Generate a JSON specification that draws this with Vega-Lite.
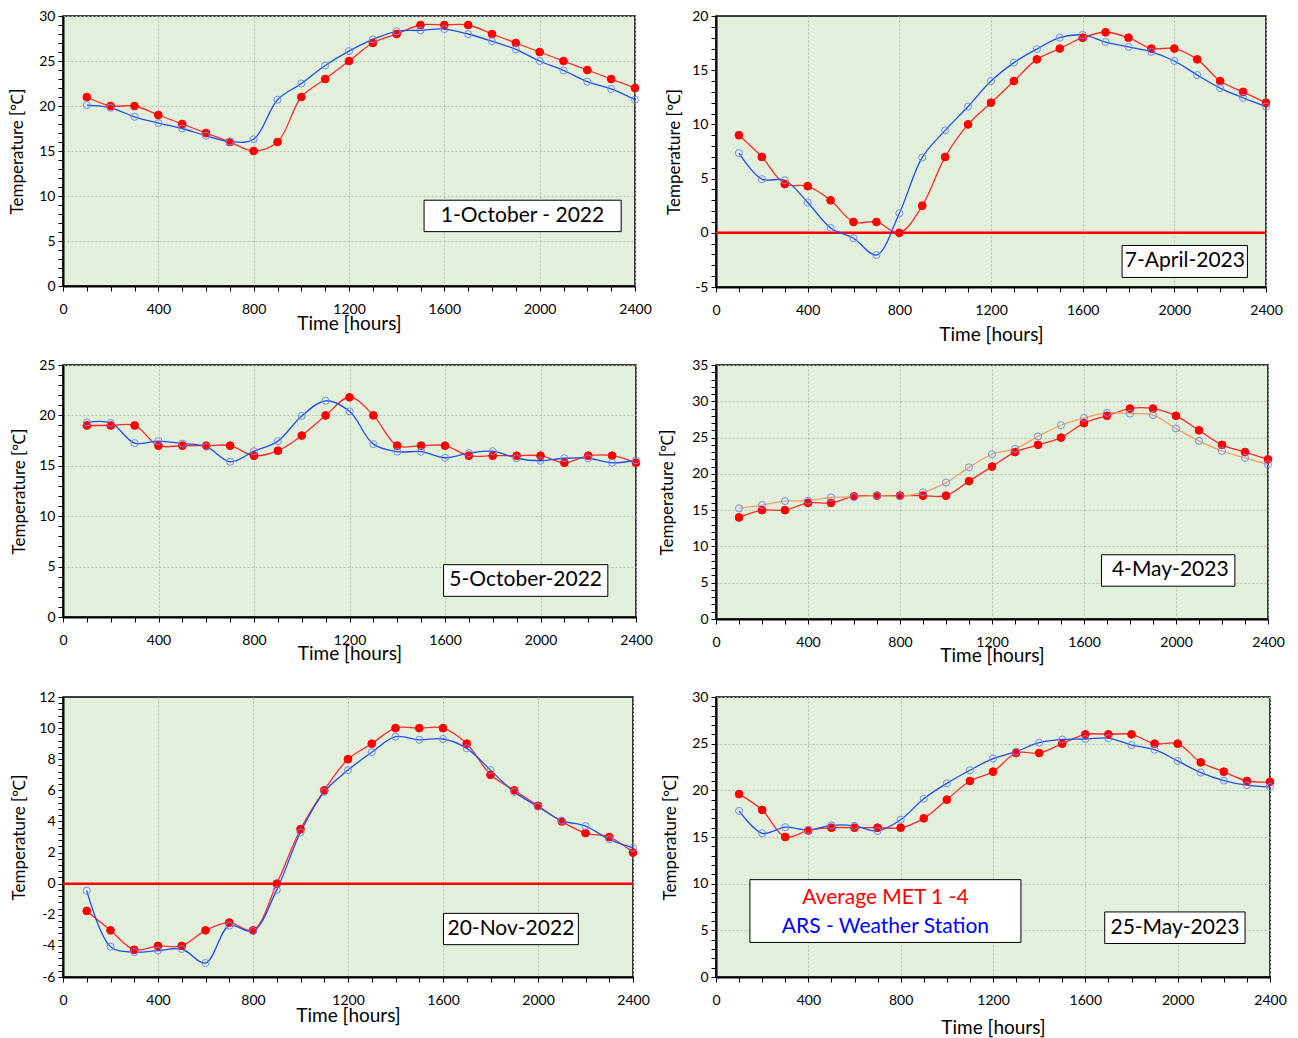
{
  "$schema": "https://vega.github.io/schema/vega-lite/v6.json",
  "background": "#ffffff",
  "padding": {"left": 8, "top": 8, "right": 5, "bottom": 5},
  "bounds": "flush",
  "columns": 2,
  "spacing": {"row": 78, "column": 80},
  "config": {
    "font": "Lato",
    "view": {"stroke": "#000000", "strokeWidth": 1.5, "fill": "#E2EFDA"},
    "axis": {
      "domainColor": "#000000", "domainWidth": 2, "tickColor": "#000000", "tickSize": 5, "tickWidth": 1,
      "labelFont": "Lato", "labelFontSize": 14, "labelColor": "#000000",
      "titleFont": "Lato", "titleFontWeight": "normal", "titleColor": "#000000",
      "gridColor": "#b8b8b8", "gridDash": [2, 2], "gridWidth": 1,
      "labelOverlap": false, "labelBound": false, "labelFlush": false
    },
    "axisX": {"titleFontSize": 19, "labelPadding": 11},
    "axisY": {"titleFontSize": 17, "labelPadding": 3}
  },
  "datasets": {
    "oct1": [
      {"series": "MET", "time": 100, "temp": 21}, {"series": "MET", "time": 200, "temp": 20}, {"series": "MET", "time": 300, "temp": 20}, {"series": "MET", "time": 400, "temp": 19}, {"series": "MET", "time": 500, "temp": 18}, {"series": "MET", "time": 600, "temp": 17}, {"series": "MET", "time": 700, "temp": 16}, {"series": "MET", "time": 800, "temp": 15}, {"series": "MET", "time": 900, "temp": 16}, {"series": "MET", "time": 1000, "temp": 21}, {"series": "MET", "time": 1100, "temp": 23}, {"series": "MET", "time": 1200, "temp": 25}, {"series": "MET", "time": 1300, "temp": 27}, {"series": "MET", "time": 1400, "temp": 28}, {"series": "MET", "time": 1500, "temp": 29}, {"series": "MET", "time": 1600, "temp": 29}, {"series": "MET", "time": 1700, "temp": 29}, {"series": "MET", "time": 1800, "temp": 28}, {"series": "MET", "time": 1900, "temp": 27}, {"series": "MET", "time": 2000, "temp": 26}, {"series": "MET", "time": 2100, "temp": 25}, {"series": "MET", "time": 2200, "temp": 24}, {"series": "MET", "time": 2300, "temp": 23}, {"series": "MET", "time": 2400, "temp": 22},
      {"series": "ARS", "time": 100, "temp": 20.1}, {"series": "ARS", "time": 200, "temp": 19.8}, {"series": "ARS", "time": 300, "temp": 18.8}, {"series": "ARS", "time": 400, "temp": 18.1}, {"series": "ARS", "time": 500, "temp": 17.5}, {"series": "ARS", "time": 600, "temp": 16.7}, {"series": "ARS", "time": 700, "temp": 16.05}, {"series": "ARS", "time": 800, "temp": 16.3}, {"series": "ARS", "time": 900, "temp": 20.7}, {"series": "ARS", "time": 1000, "temp": 22.5}, {"series": "ARS", "time": 1100, "temp": 24.5}, {"series": "ARS", "time": 1200, "temp": 26.1}, {"series": "ARS", "time": 1300, "temp": 27.4}, {"series": "ARS", "time": 1400, "temp": 28.3}, {"series": "ARS", "time": 1500, "temp": 28.4}, {"series": "ARS", "time": 1600, "temp": 28.55}, {"series": "ARS", "time": 1700, "temp": 28.0}, {"series": "ARS", "time": 1800, "temp": 27.2}, {"series": "ARS", "time": 1900, "temp": 26.3}, {"series": "ARS", "time": 2000, "temp": 25.0}, {"series": "ARS", "time": 2100, "temp": 23.95}, {"series": "ARS", "time": 2200, "temp": 22.7}, {"series": "ARS", "time": 2300, "temp": 21.9}, {"series": "ARS", "time": 2400, "temp": 20.7}
    ],
    "apr7": [
      {"series": "MET", "time": 100, "temp": 9}, {"series": "MET", "time": 200, "temp": 7}, {"series": "MET", "time": 300, "temp": 4.5}, {"series": "MET", "time": 400, "temp": 4.3}, {"series": "MET", "time": 500, "temp": 3}, {"series": "MET", "time": 600, "temp": 1}, {"series": "MET", "time": 700, "temp": 1}, {"series": "MET", "time": 800, "temp": 0}, {"series": "MET", "time": 900, "temp": 2.5}, {"series": "MET", "time": 1000, "temp": 7}, {"series": "MET", "time": 1100, "temp": 10}, {"series": "MET", "time": 1200, "temp": 12}, {"series": "MET", "time": 1300, "temp": 14}, {"series": "MET", "time": 1400, "temp": 16}, {"series": "MET", "time": 1500, "temp": 17}, {"series": "MET", "time": 1600, "temp": 18}, {"series": "MET", "time": 1700, "temp": 18.5}, {"series": "MET", "time": 1800, "temp": 18}, {"series": "MET", "time": 1900, "temp": 17}, {"series": "MET", "time": 2000, "temp": 17}, {"series": "MET", "time": 2100, "temp": 16}, {"series": "MET", "time": 2200, "temp": 14}, {"series": "MET", "time": 2300, "temp": 13}, {"series": "MET", "time": 2400, "temp": 12},
      {"series": "ARS", "time": 100, "temp": 7.35}, {"series": "ARS", "time": 200, "temp": 4.95}, {"series": "ARS", "time": 300, "temp": 4.85}, {"series": "ARS", "time": 400, "temp": 2.8}, {"series": "ARS", "time": 500, "temp": 0.45}, {"series": "ARS", "time": 600, "temp": -0.5}, {"series": "ARS", "time": 700, "temp": -2.05}, {"series": "ARS", "time": 800, "temp": 1.8}, {"series": "ARS", "time": 900, "temp": 6.95}, {"series": "ARS", "time": 1000, "temp": 9.45}, {"series": "ARS", "time": 1100, "temp": 11.65}, {"series": "ARS", "time": 1200, "temp": 14.0}, {"series": "ARS", "time": 1300, "temp": 15.7}, {"series": "ARS", "time": 1400, "temp": 16.95}, {"series": "ARS", "time": 1500, "temp": 18.0}, {"series": "ARS", "time": 1600, "temp": 18.25}, {"series": "ARS", "time": 1700, "temp": 17.6}, {"series": "ARS", "time": 1800, "temp": 17.15}, {"series": "ARS", "time": 1900, "temp": 16.7}, {"series": "ARS", "time": 2000, "temp": 15.85}, {"series": "ARS", "time": 2100, "temp": 14.55}, {"series": "ARS", "time": 2200, "temp": 13.35}, {"series": "ARS", "time": 2300, "temp": 12.45}, {"series": "ARS", "time": 2400, "temp": 11.65}
    ],
    "oct5": [
      {"series": "MET", "time": 100, "temp": 19}, {"series": "MET", "time": 200, "temp": 19}, {"series": "MET", "time": 300, "temp": 19}, {"series": "MET", "time": 400, "temp": 17}, {"series": "MET", "time": 500, "temp": 17}, {"series": "MET", "time": 600, "temp": 17}, {"series": "MET", "time": 700, "temp": 17}, {"series": "MET", "time": 800, "temp": 16}, {"series": "MET", "time": 900, "temp": 16.5}, {"series": "MET", "time": 1000, "temp": 18}, {"series": "MET", "time": 1100, "temp": 20}, {"series": "MET", "time": 1200, "temp": 21.8}, {"series": "MET", "time": 1300, "temp": 20}, {"series": "MET", "time": 1400, "temp": 17}, {"series": "MET", "time": 1500, "temp": 17}, {"series": "MET", "time": 1600, "temp": 17}, {"series": "MET", "time": 1700, "temp": 16}, {"series": "MET", "time": 1800, "temp": 16}, {"series": "MET", "time": 1900, "temp": 16}, {"series": "MET", "time": 2000, "temp": 16}, {"series": "MET", "time": 2100, "temp": 15.3}, {"series": "MET", "time": 2200, "temp": 16}, {"series": "MET", "time": 2300, "temp": 16}, {"series": "MET", "time": 2400, "temp": 15.3},
      {"series": "ARS", "time": 100, "temp": 19.3}, {"series": "ARS", "time": 200, "temp": 19.25}, {"series": "ARS", "time": 300, "temp": 17.25}, {"series": "ARS", "time": 400, "temp": 17.45}, {"series": "ARS", "time": 500, "temp": 17.2}, {"series": "ARS", "time": 600, "temp": 16.9}, {"series": "ARS", "time": 700, "temp": 15.4}, {"series": "ARS", "time": 800, "temp": 16.45}, {"series": "ARS", "time": 900, "temp": 17.45}, {"series": "ARS", "time": 1000, "temp": 19.95}, {"series": "ARS", "time": 1100, "temp": 21.45}, {"series": "ARS", "time": 1200, "temp": 20.4}, {"series": "ARS", "time": 1300, "temp": 17.15}, {"series": "ARS", "time": 1400, "temp": 16.4}, {"series": "ARS", "time": 1500, "temp": 16.4}, {"series": "ARS", "time": 1600, "temp": 15.8}, {"series": "ARS", "time": 1700, "temp": 16.25}, {"series": "ARS", "time": 1800, "temp": 16.45}, {"series": "ARS", "time": 1900, "temp": 15.75}, {"series": "ARS", "time": 2000, "temp": 15.5}, {"series": "ARS", "time": 2100, "temp": 15.75}, {"series": "ARS", "time": 2200, "temp": 15.75}, {"series": "ARS", "time": 2300, "temp": 15.3}, {"series": "ARS", "time": 2400, "temp": 15.55}
    ],
    "may4": [
      {"series": "MET", "time": 100, "temp": 14}, {"series": "MET", "time": 200, "temp": 15}, {"series": "MET", "time": 300, "temp": 15}, {"series": "MET", "time": 400, "temp": 16}, {"series": "MET", "time": 500, "temp": 16}, {"series": "MET", "time": 600, "temp": 16.9}, {"series": "MET", "time": 700, "temp": 17}, {"series": "MET", "time": 800, "temp": 17}, {"series": "MET", "time": 900, "temp": 17}, {"series": "MET", "time": 1000, "temp": 17}, {"series": "MET", "time": 1100, "temp": 19}, {"series": "MET", "time": 1200, "temp": 21}, {"series": "MET", "time": 1300, "temp": 23}, {"series": "MET", "time": 1400, "temp": 24}, {"series": "MET", "time": 1500, "temp": 25}, {"series": "MET", "time": 1600, "temp": 27}, {"series": "MET", "time": 1700, "temp": 28}, {"series": "MET", "time": 1800, "temp": 29}, {"series": "MET", "time": 1900, "temp": 29}, {"series": "MET", "time": 2000, "temp": 28}, {"series": "MET", "time": 2100, "temp": 26}, {"series": "MET", "time": 2200, "temp": 24}, {"series": "MET", "time": 2300, "temp": 23}, {"series": "MET", "time": 2400, "temp": 22},
      {"series": "ARS", "time": 100, "temp": 15.25}, {"series": "ARS", "time": 200, "temp": 15.7}, {"series": "ARS", "time": 300, "temp": 16.25}, {"series": "ARS", "time": 400, "temp": 16.3}, {"series": "ARS", "time": 500, "temp": 16.75}, {"series": "ARS", "time": 600, "temp": 16.8}, {"series": "ARS", "time": 700, "temp": 17.0}, {"series": "ARS", "time": 800, "temp": 16.9}, {"series": "ARS", "time": 900, "temp": 17.45}, {"series": "ARS", "time": 1000, "temp": 18.8}, {"series": "ARS", "time": 1100, "temp": 20.9}, {"series": "ARS", "time": 1200, "temp": 22.7}, {"series": "ARS", "time": 1300, "temp": 23.45}, {"series": "ARS", "time": 1400, "temp": 25.15}, {"series": "ARS", "time": 1500, "temp": 26.7}, {"series": "ARS", "time": 1600, "temp": 27.7}, {"series": "ARS", "time": 1700, "temp": 28.4}, {"series": "ARS", "time": 1800, "temp": 28.3}, {"series": "ARS", "time": 1900, "temp": 28.1}, {"series": "ARS", "time": 2000, "temp": 26.25}, {"series": "ARS", "time": 2100, "temp": 24.55}, {"series": "ARS", "time": 2200, "temp": 23.15}, {"series": "ARS", "time": 2300, "temp": 22.2}, {"series": "ARS", "time": 2400, "temp": 21.3}
    ],
    "nov20": [
      {"series": "MET", "time": 100, "temp": -1.75}, {"series": "MET", "time": 200, "temp": -3}, {"series": "MET", "time": 300, "temp": -4.25}, {"series": "MET", "time": 400, "temp": -4}, {"series": "MET", "time": 500, "temp": -4}, {"series": "MET", "time": 600, "temp": -3}, {"series": "MET", "time": 700, "temp": -2.5}, {"series": "MET", "time": 800, "temp": -3}, {"series": "MET", "time": 900, "temp": 0}, {"series": "MET", "time": 1000, "temp": 3.5}, {"series": "MET", "time": 1100, "temp": 6}, {"series": "MET", "time": 1200, "temp": 8}, {"series": "MET", "time": 1300, "temp": 9}, {"series": "MET", "time": 1400, "temp": 10}, {"series": "MET", "time": 1500, "temp": 10}, {"series": "MET", "time": 1600, "temp": 10}, {"series": "MET", "time": 1700, "temp": 9}, {"series": "MET", "time": 1800, "temp": 7}, {"series": "MET", "time": 1900, "temp": 6}, {"series": "MET", "time": 2000, "temp": 5}, {"series": "MET", "time": 2100, "temp": 4}, {"series": "MET", "time": 2200, "temp": 3.25}, {"series": "MET", "time": 2300, "temp": 3}, {"series": "MET", "time": 2400, "temp": 2},
      {"series": "ARS", "time": 100, "temp": -0.45}, {"series": "ARS", "time": 200, "temp": -4.05}, {"series": "ARS", "time": 300, "temp": -4.4}, {"series": "ARS", "time": 400, "temp": -4.3}, {"series": "ARS", "time": 500, "temp": -4.2}, {"series": "ARS", "time": 600, "temp": -5.1}, {"series": "ARS", "time": 700, "temp": -2.7}, {"series": "ARS", "time": 800, "temp": -3.05}, {"series": "ARS", "time": 900, "temp": -0.4}, {"series": "ARS", "time": 1000, "temp": 3.3}, {"series": "ARS", "time": 1100, "temp": 5.9}, {"series": "ARS", "time": 1200, "temp": 7.3}, {"series": "ARS", "time": 1300, "temp": 8.45}, {"series": "ARS", "time": 1400, "temp": 9.45}, {"series": "ARS", "time": 1500, "temp": 9.25}, {"series": "ARS", "time": 1600, "temp": 9.3}, {"series": "ARS", "time": 1700, "temp": 8.7}, {"series": "ARS", "time": 1800, "temp": 7.3}, {"series": "ARS", "time": 1900, "temp": 5.9}, {"series": "ARS", "time": 2000, "temp": 4.95}, {"series": "ARS", "time": 2100, "temp": 4.05}, {"series": "ARS", "time": 2200, "temp": 3.7}, {"series": "ARS", "time": 2300, "temp": 2.85}, {"series": "ARS", "time": 2400, "temp": 2.3}
    ],
    "may25": [
      {"series": "MET", "time": 100, "temp": 19.6}, {"series": "MET", "time": 200, "temp": 17.9}, {"series": "MET", "time": 300, "temp": 15}, {"series": "MET", "time": 400, "temp": 15.7}, {"series": "MET", "time": 500, "temp": 16}, {"series": "MET", "time": 600, "temp": 16}, {"series": "MET", "time": 700, "temp": 16}, {"series": "MET", "time": 800, "temp": 16}, {"series": "MET", "time": 900, "temp": 17}, {"series": "MET", "time": 1000, "temp": 19}, {"series": "MET", "time": 1100, "temp": 21}, {"series": "MET", "time": 1200, "temp": 22}, {"series": "MET", "time": 1300, "temp": 24}, {"series": "MET", "time": 1400, "temp": 24}, {"series": "MET", "time": 1500, "temp": 25}, {"series": "MET", "time": 1600, "temp": 26}, {"series": "MET", "time": 1700, "temp": 26}, {"series": "MET", "time": 1800, "temp": 26}, {"series": "MET", "time": 1900, "temp": 25}, {"series": "MET", "time": 2000, "temp": 25}, {"series": "MET", "time": 2100, "temp": 23}, {"series": "MET", "time": 2200, "temp": 22}, {"series": "MET", "time": 2300, "temp": 21}, {"series": "MET", "time": 2400, "temp": 20.9},
      {"series": "ARS", "time": 100, "temp": 17.8}, {"series": "ARS", "time": 200, "temp": 15.4}, {"series": "ARS", "time": 300, "temp": 16.05}, {"series": "ARS", "time": 400, "temp": 15.75}, {"series": "ARS", "time": 500, "temp": 16.25}, {"series": "ARS", "time": 600, "temp": 16.2}, {"series": "ARS", "time": 700, "temp": 15.65}, {"series": "ARS", "time": 800, "temp": 16.85}, {"series": "ARS", "time": 900, "temp": 19.1}, {"series": "ARS", "time": 1000, "temp": 20.75}, {"series": "ARS", "time": 1100, "temp": 22.15}, {"series": "ARS", "time": 1200, "temp": 23.4}, {"series": "ARS", "time": 1300, "temp": 24.15}, {"series": "ARS", "time": 1400, "temp": 25.1}, {"series": "ARS", "time": 1500, "temp": 25.45}, {"series": "ARS", "time": 1600, "temp": 25.5}, {"series": "ARS", "time": 1700, "temp": 25.6}, {"series": "ARS", "time": 1800, "temp": 24.85}, {"series": "ARS", "time": 1900, "temp": 24.35}, {"series": "ARS", "time": 2000, "temp": 23.15}, {"series": "ARS", "time": 2100, "temp": 21.9}, {"series": "ARS", "time": 2200, "temp": 21.05}, {"series": "ARS", "time": 2300, "temp": 20.55}, {"series": "ARS", "time": 2400, "temp": 20.35}
    ]
  },
  "concat": [
    {
      "width": 572, "height": 270,
      "resolve": {"axis": {"x": "independent", "y": "independent"}},
      "layer": [
        {"data": {"name": "oct1"},
          "encoding": {
            "x": {"field": "time", "type": "quantitative", "scale": {"domain": [0, 2400], "nice": false},
              "axis": {"values": [0,100,200,300,400,500,600,700,800,900,1000,1100,1200,1300,1400,1500,1600,1700,1800,1900,2000,2100,2200,2300,2400],
                "labelExpr": "datum.value % 400 === 0 ? '' + datum.value : ''",
                "gridOpacity": {"condition": {"test": "datum.value % 400 === 0", "value": 1}, "value": 0},
                "title": "Time [hours]", "titlePadding": -2}},
            "y": {"field": "temp", "type": "quantitative", "scale": {"domain": [0, 30], "nice": false, "zero": false},
              "axis": {"values": [0,1,2,3,4,5,6,7,8,9,10,11,12,13,14,15,16,17,18,19,20,21,22,23,24,25,26,27,28,29,30],
                "labelExpr": "datum.value % 5 === 0 ? '' + datum.value : ''",
                "gridOpacity": {"condition": {"test": "datum.value % 5 === 0", "value": 1}, "value": 0},
                "title": "Temperature [℃]", "titlePadding": 12}}
          },
          "layer": [
            {"mark": {"type": "line", "interpolate": "catmull-rom", "strokeWidth": 1.3},
              "encoding": {"detail": {"field": "series"}, "stroke": {"condition": {"test": "datum.series === 'MET'", "value": "#ff2a2a"}, "value": "#1f4fe8"}}},
            {"mark": {"type": "point", "shape": "circle", "strokeWidth": 1, "opacity": 1},
              "encoding": {
                "size": {"condition": {"test": "datum.series === 'MET'", "value": 60}, "value": 50},
                "fill": {"condition": {"test": "datum.series === 'MET'", "value": "#ff0000"}, "value": "transparent"},
                "stroke": {"condition": {"test": "datum.series === 'MET'", "value": "#ff0000"}, "value": "#6b8ef0"}}}
          ]
        },
        {"data": {"values": [{"label": "1-October - 2022"}]}, "mark": {"type": "rect", "fill": "#ffffff", "stroke": "#000000", "strokeWidth": 1},
          "encoding": {"x": {"datum": 1515, "axis": null}, "x2": {"datum": 2342}, "y": {"datum": 9.53, "axis": null}, "y2": {"datum": 6.04}}},
        {"data": {"values": [{"label": "1-October - 2022"}]}, "mark": {"type": "text", "fontSize": 21, "font": "Lato", "color": "#000000"},
          "encoding": {"x": {"datum": 1928, "axis": null}, "y": {"datum": 7.8, "axis": null}, "text": {"field": "label"}}}
      ]
    },
    {
      "width": 550, "height": 271,
      "resolve": {"axis": {"x": "independent", "y": "independent"}},
      "layer": [
        {"data": {"values": [{"label": "zero"}]}, "mark": {"type": "rule", "color": "#ff0000", "strokeWidth": 2.5},
          "encoding": {"y": {"datum": 0, "axis": null}}},
        {"data": {"name": "apr7"},
          "encoding": {
            "x": {"field": "time", "type": "quantitative", "scale": {"domain": [0, 2400], "nice": false},
              "axis": {"values": [0,100,200,300,400,500,600,700,800,900,1000,1100,1200,1300,1400,1500,1600,1700,1800,1900,2000,2100,2200,2300,2400],
                "labelExpr": "datum.value % 400 === 0 ? '' + datum.value : ''",
                "gridOpacity": {"condition": {"test": "datum.value % 400 === 0", "value": 1}, "value": 0},
                "title": "Time [hours]", "titlePadding": 8}},
            "y": {"field": "temp", "type": "quantitative", "scale": {"domain": [-5, 20], "nice": false, "zero": false},
              "axis": {"values": [-5,-4,-3,-2,-1,0,1,2,3,4,5,6,7,8,9,10,11,12,13,14,15,16,17,18,19,20],
                "labelExpr": "datum.value % 5 === 0 ? '' + datum.value : ''",
                "gridOpacity": {"condition": {"test": "datum.value % 5 === 0", "value": 1}, "value": 0},
                "title": "Temperature [℃]", "titlePadding": 8}}
          },
          "layer": [
            {"mark": {"type": "line", "interpolate": "catmull-rom", "strokeWidth": 1.3},
              "encoding": {"detail": {"field": "series"}, "stroke": {"condition": {"test": "datum.series === 'MET'", "value": "#ff2a2a"}, "value": "#1f4fe8"}}},
            {"mark": {"type": "point", "shape": "circle", "strokeWidth": 1, "opacity": 1},
              "encoding": {
                "size": {"condition": {"test": "datum.series === 'MET'", "value": 60}, "value": 50},
                "fill": {"condition": {"test": "datum.series === 'MET'", "value": "#ff0000"}, "value": "transparent"},
                "stroke": {"condition": {"test": "datum.series === 'MET'", "value": "#ff0000"}, "value": "#6b8ef0"}}}
          ]
        },
        {"data": {"values": [{"label": "7-April-2023"}]}, "mark": {"type": "rect", "fill": "#ffffff", "stroke": "#000000", "strokeWidth": 1},
          "encoding": {"x": {"datum": 1772, "axis": null}, "x2": {"datum": 2319}, "y": {"datum": -1.17, "axis": null}, "y2": {"datum": -4.12}}},
        {"data": {"values": [{"label": "7-April-2023"}]}, "mark": {"type": "text", "fontSize": 21, "font": "Lato", "color": "#000000"},
          "encoding": {"x": {"datum": 2046, "axis": null}, "y": {"datum": -2.6, "axis": null}, "text": {"field": "label"}}}
      ]
    },
    {
      "width": 573, "height": 252,
      "resolve": {"axis": {"x": "independent", "y": "independent"}},
      "layer": [
        {"data": {"name": "oct5"},
          "encoding": {
            "x": {"field": "time", "type": "quantitative", "scale": {"domain": [0, 2400], "nice": false},
              "axis": {"values": [0,100,200,300,400,500,600,700,800,900,1000,1100,1200,1300,1400,1500,1600,1700,1800,1900,2000,2100,2200,2300,2400],
                "labelExpr": "datum.value % 400 === 0 ? '' + datum.value : ''",
                "gridOpacity": {"condition": {"test": "datum.value % 400 === 0", "value": 1}, "value": 0},
                "title": "Time [hours]", "titlePadding": -3}},
            "y": {"field": "temp", "type": "quantitative", "scale": {"domain": [0, 25], "nice": false, "zero": false},
              "axis": {"values": [0,1,2,3,4,5,6,7,8,9,10,11,12,13,14,15,16,17,18,19,20,21,22,23,24,25],
                "labelExpr": "datum.value % 5 === 0 ? '' + datum.value : ''",
                "gridOpacity": {"condition": {"test": "datum.value % 5 === 0", "value": 1}, "value": 0},
                "title": "Temperature [℃]", "titlePadding": 10}}
          },
          "layer": [
            {"mark": {"type": "line", "interpolate": "catmull-rom", "strokeWidth": 1.3},
              "encoding": {"detail": {"field": "series"}, "stroke": {"condition": {"test": "datum.series === 'MET'", "value": "#ff2a2a"}, "value": "#1f4fe8"}}},
            {"mark": {"type": "point", "shape": "circle", "strokeWidth": 1, "opacity": 1},
              "encoding": {
                "size": {"condition": {"test": "datum.series === 'MET'", "value": 60}, "value": 50},
                "fill": {"condition": {"test": "datum.series === 'MET'", "value": "#ff0000"}, "value": "transparent"},
                "stroke": {"condition": {"test": "datum.series === 'MET'", "value": "#ff0000"}, "value": "#6b8ef0"}}}
          ]
        },
        {"data": {"values": [{"label": "5-October-2022"}]}, "mark": {"type": "rect", "fill": "#ffffff", "stroke": "#000000", "strokeWidth": 1},
          "encoding": {"x": {"datum": 1594, "axis": null}, "x2": {"datum": 2282}, "y": {"datum": 5.19, "axis": null}, "y2": {"datum": 2.05}}},
        {"data": {"values": [{"label": "5-October-2022"}]}, "mark": {"type": "text", "fontSize": 21, "font": "Lato", "color": "#000000"},
          "encoding": {"x": {"datum": 1938, "axis": null}, "y": {"datum": 3.65, "axis": null}, "text": {"field": "label"}}}
      ]
    },
    {
      "width": 552, "height": 254,
      "resolve": {"axis": {"x": "independent", "y": "independent"}},
      "layer": [
        {"data": {"name": "may4"},
          "encoding": {
            "x": {"field": "time", "type": "quantitative", "scale": {"domain": [0, 2400], "nice": false},
              "axis": {"values": [0,100,200,300,400,500,600,700,800,900,1000,1100,1200,1300,1400,1500,1600,1700,1800,1900,2000,2100,2200,2300,2400],
                "labelExpr": "datum.value % 400 === 0 ? '' + datum.value : ''",
                "gridOpacity": {"condition": {"test": "datum.value % 400 === 0", "value": 1}, "value": 0},
                "title": "Time [hours]", "titlePadding": -3}},
            "y": {"field": "temp", "type": "quantitative", "scale": {"domain": [0, 35], "nice": false, "zero": false},
              "axis": {"values": [0,1,2,3,4,5,6,7,8,9,10,11,12,13,14,15,16,17,18,19,20,21,22,23,24,25,26,27,28,29,30,31,32,33,34,35],
                "labelExpr": "datum.value % 5 === 0 ? '' + datum.value : ''",
                "gridOpacity": {"condition": {"test": "datum.value % 5 === 0", "value": 1}, "value": 0},
                "title": "Temperature [℃]", "titlePadding": 15}}
          },
          "layer": [
            {"mark": {"type": "line", "interpolate": "catmull-rom", "strokeWidth": 1.3},
              "encoding": {"detail": {"field": "series"}, "stroke": {"condition": {"test": "datum.series === 'MET'", "value": "#ff2a2a"}, "value": "#f0a060"}}},
            {"mark": {"type": "point", "shape": "circle", "strokeWidth": 1, "opacity": 1},
              "encoding": {
                "size": {"condition": {"test": "datum.series === 'MET'", "value": 60}, "value": 50},
                "fill": {"condition": {"test": "datum.series === 'MET'", "value": "#ff0000"}, "value": "transparent"},
                "stroke": {"condition": {"test": "datum.series === 'MET'", "value": "#ff0000"}, "value": "#6b8ef0"}}}
          ]
        },
        {"data": {"values": [{"label": "4-May-2023"}]}, "mark": {"type": "rect", "fill": "#ffffff", "stroke": "#000000", "strokeWidth": 1},
          "encoding": {"x": {"datum": 1676, "axis": null}, "x2": {"datum": 2256}, "y": {"datum": 8.85, "axis": null}, "y2": {"datum": 4.52}}},
        {"data": {"values": [{"label": "4-May-2023"}]}, "mark": {"type": "text", "fontSize": 21, "font": "Lato", "color": "#000000"},
          "encoding": {"x": {"datum": 1975, "axis": null}, "y": {"datum": 6.75, "axis": null}, "text": {"field": "label"}}}
      ]
    },
    {
      "width": 570, "height": 280,
      "resolve": {"axis": {"x": "independent", "y": "independent"}},
      "layer": [
        {"data": {"values": [{"label": "zero"}]}, "mark": {"type": "rule", "color": "#ff0000", "strokeWidth": 2.5},
          "encoding": {"y": {"datum": 0, "axis": null}}},
        {"data": {"name": "nov20"},
          "encoding": {
            "x": {"field": "time", "type": "quantitative", "scale": {"domain": [0, 2400], "nice": false},
              "axis": {"values": [0,100,200,300,400,500,600,700,800,900,1000,1100,1200,1300,1400,1500,1600,1700,1800,1900,2000,2100,2200,2300,2400],
                "labelExpr": "datum.value % 400 === 0 ? '' + datum.value : ''",
                "gridOpacity": {"condition": {"test": "datum.value % 400 === 0", "value": 1}, "value": 0},
                "title": "Time [hours]", "titlePadding": -1}},
            "y": {"field": "temp", "type": "quantitative", "scale": {"domain": [-6, 12], "nice": false, "zero": false},
              "axis": {"values": [-6,-5.6,-5.2,-4.8,-4.4,-4,-3.6,-3.2,-2.8,-2.4,-2,-1.6,-1.2,-0.8,-0.4,0,0.4,0.8,1.2,1.6,2,2.4,2.8,3.2,3.6,4,4.4,4.8,5.2,5.6,6,6.4,6.8,7.2,7.6,8,8.4,8.8,9.2,9.6,10,10.4,10.8,11.2,11.6,12],
                "labelExpr": "datum.value % 2 === 0 ? '' + datum.value : ''",
                "gridOpacity": {"condition": {"test": "datum.value % 2 === 0", "value": 1}, "value": 0},
                "title": "Temperature [℃]", "titlePadding": 10}}
          },
          "layer": [
            {"mark": {"type": "line", "interpolate": "catmull-rom", "strokeWidth": 1.3},
              "encoding": {"detail": {"field": "series"}, "stroke": {"condition": {"test": "datum.series === 'MET'", "value": "#ff2a2a"}, "value": "#1f4fe8"}}},
            {"mark": {"type": "point", "shape": "circle", "strokeWidth": 1, "opacity": 1},
              "encoding": {
                "size": {"condition": {"test": "datum.series === 'MET'", "value": 60}, "value": 50},
                "fill": {"condition": {"test": "datum.series === 'MET'", "value": "#ff0000"}, "value": "transparent"},
                "stroke": {"condition": {"test": "datum.series === 'MET'", "value": "#ff0000"}, "value": "#6b8ef0"}}}
          ]
        },
        {"data": {"values": [{"label": "20-Nov-2022"}]}, "mark": {"type": "rect", "fill": "#ffffff", "stroke": "#000000", "strokeWidth": 1},
          "encoding": {"x": {"datum": 1602, "axis": null}, "x2": {"datum": 2170}, "y": {"datum": -1.91, "axis": null}, "y2": {"datum": -3.92}}},
        {"data": {"values": [{"label": "20-Nov-2022"}]}, "mark": {"type": "text", "fontSize": 21, "font": "Lato", "color": "#000000"},
          "encoding": {"x": {"datum": 1886, "axis": null}, "y": {"datum": -2.9, "axis": null}, "text": {"field": "label"}}}
      ]
    },
    {
      "width": 554, "height": 280,
      "resolve": {"axis": {"x": "independent", "y": "independent"}},
      "layer": [
        {"data": {"name": "may25"},
          "encoding": {
            "x": {"field": "time", "type": "quantitative", "scale": {"domain": [0, 2400], "nice": false},
              "axis": {"values": [0,100,200,300,400,500,600,700,800,900,1000,1100,1200,1300,1400,1500,1600,1700,1800,1900,2000,2100,2200,2300,2400],
                "labelExpr": "datum.value % 400 === 0 ? '' + datum.value : ''",
                "gridOpacity": {"condition": {"test": "datum.value % 400 === 0", "value": 1}, "value": 0},
                "title": "Time [hours]", "titlePadding": 11}},
            "y": {"field": "temp", "type": "quantitative", "scale": {"domain": [0, 30], "nice": false, "zero": false},
              "axis": {"values": [0,1,2,3,4,5,6,7,8,9,10,11,12,13,14,15,16,17,18,19,20,21,22,23,24,25,26,27,28,29,30],
                "labelExpr": "datum.value % 5 === 0 ? '' + datum.value : ''",
                "gridOpacity": {"condition": {"test": "datum.value % 5 === 0", "value": 1}, "value": 0},
                "title": "Temperature [℃]", "titlePadding": 12}}
          },
          "layer": [
            {"mark": {"type": "line", "interpolate": "catmull-rom", "strokeWidth": 1.3},
              "encoding": {"detail": {"field": "series"}, "stroke": {"condition": {"test": "datum.series === 'MET'", "value": "#ff2a2a"}, "value": "#1f4fe8"}}},
            {"mark": {"type": "point", "shape": "circle", "strokeWidth": 1, "opacity": 1},
              "encoding": {
                "size": {"condition": {"test": "datum.series === 'MET'", "value": 60}, "value": 50},
                "fill": {"condition": {"test": "datum.series === 'MET'", "value": "#ff0000"}, "value": "transparent"},
                "stroke": {"condition": {"test": "datum.series === 'MET'", "value": "#ff0000"}, "value": "#6b8ef0"}}}
          ]
        },
        {"data": {"values": [{"label": "25-May-2023"}]}, "mark": {"type": "rect", "fill": "#ffffff", "stroke": "#000000", "strokeWidth": 1},
          "encoding": {"x": {"datum": 1684, "axis": null}, "x2": {"datum": 2292}, "y": {"datum": 6.97, "axis": null}, "y2": {"datum": 3.59}}},
        {"data": {"values": [{"label": "25-May-2023"}]}, "mark": {"type": "text", "fontSize": 21, "font": "Lato", "color": "#000000"},
          "encoding": {"x": {"datum": 1988, "axis": null}, "y": {"datum": 5.3, "axis": null}, "text": {"field": "label"}}},
        {"data": {"values": [{"label": "legend"}]}, "mark": {"type": "rect", "fill": "#ffffff", "stroke": "#000000", "strokeWidth": 1},
          "encoding": {"x": {"datum": 147, "axis": null}, "x2": {"datum": 1321}, "y": {"datum": 10.43, "axis": null}, "y2": {"datum": 3.7}}},
        {"data": {"values": [{"label": "Average MET 1 -4"}]}, "mark": {"type": "text", "fontSize": 21, "font": "Lato", "color": "#ff0000"},
          "encoding": {"x": {"datum": 734, "axis": null}, "y": {"datum": 8.45, "axis": null}, "text": {"field": "label"}}},
        {"data": {"values": [{"label": "ARS - Weather Station"}]}, "mark": {"type": "text", "fontSize": 21, "font": "Lato", "color": "#0000ff"},
          "encoding": {"x": {"datum": 734, "axis": null}, "y": {"datum": 5.35, "axis": null}, "text": {"field": "label"}}}
      ]
    }
  ]
}
